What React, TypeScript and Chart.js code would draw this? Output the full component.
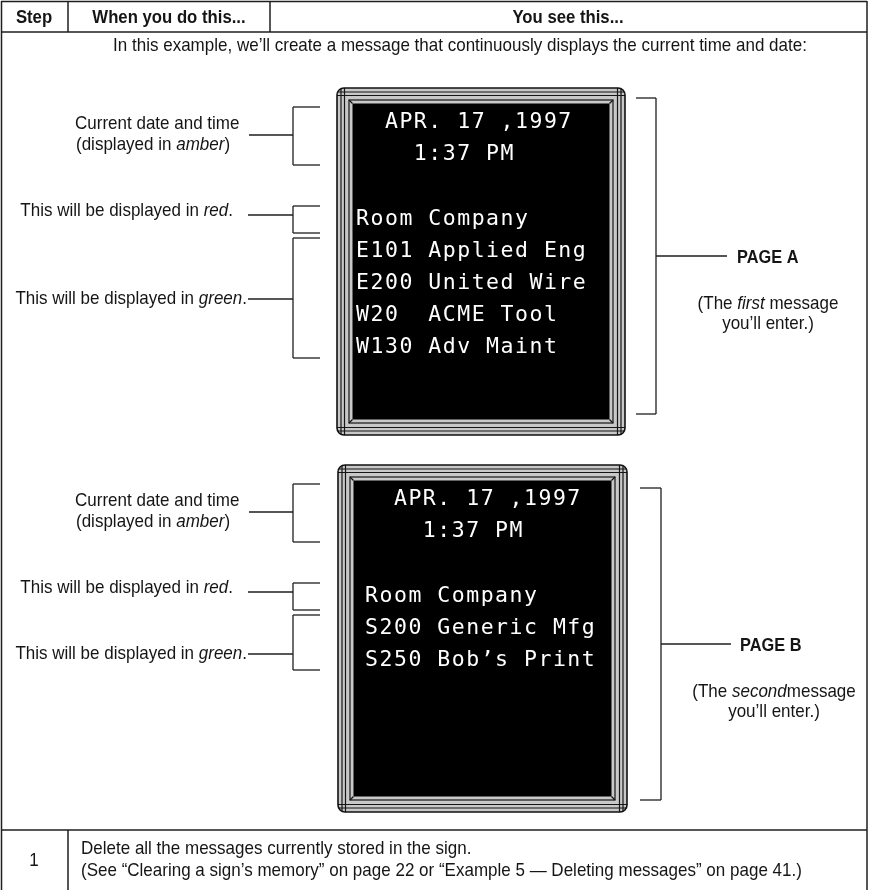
import React, { useEffect, useRef } from "react";
import { Chart, registerables } from "chart.js";
Chart.register(...registerables);

const W = 869;
const H = 890;

// ---- content ----
const headerLabels = ["Step", "When you do this...", "You see this..."];
const introText =
  "In this example, we’ll create a message that continuously displays the current time and date:";
const signALines = [
  "  APR. 17 ,1997",
  "    1:37 PM",
  "",
  "Room Company",
  "E101 Applied Eng",
  "E200 United Wire",
  "W20  ACME Tool",
  "W130 Adv Maint",
];
const signBLines = [
  "  APR. 17 ,1997",
  "    1:37 PM",
  "",
  "Room Company",
  "S200 Generic Mfg",
  "S250 Bob’s Print",
];
const dateNote = ["Current date and time", "(displayed in *amber*)"];
const redNote = "This will be displayed in *red*.";
const greenNote = "This will be displayed in *green*.";
const pageLabels = ["PAGE A", "PAGE B"];
const pageNotes = [
  ["(The *first* message", "you’ll enter.)"],
  ["(The *second*message", "you’ll enter.)"],
];
const stepNumbers = ["1"];
const stepTexts = [
  [
    "Delete all the messages currently stored in the sign.",
    "(See “Clearing a sign’s memory” on page 22 or “Example 5 — Deleting messages” on page 41.)",
  ],
];

// ---- styles ----
const SANS = '"Liberation Sans", Arial, Helvetica, sans-serif';
const MONO = '"DejaVu Sans Mono", "Liberation Mono", monospace';
const INK = "#151515";
const LINE = "#1e1e1e";
const BODY = 19;
const BODY_SX = 0.895;

type Runs = { t: string; it: boolean }[];
function parseRuns(s: string): Runs {
  return s
    .split("*")
    .map((t, i) => ({ t, it: i % 2 === 1 }))
    .filter((r) => r.t.length > 0);
}

function drawRich(
  ctx: CanvasRenderingContext2D,
  s: string,
  x: number,
  y: number,
  align: "left" | "right" | "center",
  opts: { size?: number; bold?: boolean; sx?: number } = {}
) {
  const size = opts.size ?? BODY;
  const bold = opts.bold ?? false;
  const sx = opts.sx ?? BODY_SX;
  const runs = parseRuns(s);
  const fontOf = (it: boolean) =>
    `${it ? "italic " : ""}${bold ? "bold " : ""}${size}px ${SANS}`;
  let total = 0;
  const widths = runs.map((r) => {
    ctx.font = fontOf(r.it);
    const w = ctx.measureText(r.t).width * sx;
    total += w;
    return w;
  });
  let cx = align === "left" ? x : align === "right" ? x - total : x - total / 2;
  ctx.fillStyle = INK;
  ctx.textAlign = "left";
  ctx.textBaseline = "alphabetic";
  runs.forEach((r, i) => {
    ctx.font = fontOf(r.it);
    ctx.save();
    ctx.translate(cx, y);
    ctx.scale(sx, 1);
    ctx.fillText(r.t, 0, 0);
    ctx.restore();
    cx += widths[i];
  });
}

const docPlugin = {
  id: "docPage",
  beforeDraw(chart: any) {
    const ctx: CanvasRenderingContext2D = chart.ctx;
    ctx.save();
    ctx.fillStyle = "#ffffff";
    ctx.fillRect(0, 0, chart.width, chart.height);
    ctx.restore();
  },
  afterDraw(chart: any) {
    const ctx: CanvasRenderingContext2D = chart.ctx;
    const xs = chart.scales.x;
    const ys = chart.scales.y;
    const X = (v: number) => xs.getPixelForValue(v);
    const Y = (v: number) => ys.getPixelForValue(v);

    const seg = (x1: number, y1: number, x2: number, y2: number, lw = 1.3, color = LINE) => {
      ctx.beginPath();
      ctx.moveTo(X(x1), Y(y1));
      ctx.lineTo(X(x2), Y(y2));
      ctx.lineWidth = lw;
      ctx.strokeStyle = color;
      ctx.stroke();
    };

    ctx.save();

    // ---- table grid ----
    const TL = 1.5;
    seg(1.5, 1, 1.5, 890, TL);
    seg(867, 1, 867, 890, TL);
    seg(1, 1.5, 867, 1.5, TL);
    seg(1, 32, 867, 32, TL);
    seg(68, 1, 68, 32, TL);
    seg(270, 1, 270, 32, TL);
    seg(1, 830, 867, 830, TL);
    seg(68, 830, 68, 890, TL);

    // header
    const headerCenters = [34, 169, 568];
    headerLabels.forEach((h, i) =>
      drawRich(ctx, h, X(headerCenters[i]), Y(23), "center", { size: 19, bold: true, sx: 0.88 })
    );

    // intro
    drawRich(ctx, introText, X(460), Y(51), "center");

    // ---- signs ----
    const drawSign = (box: number[], col0: number, row0: number, lines: string[]) => {
      const x0 = X(box[0]);
      const y0 = Y(box[1]);
      const x1 = X(box[2]);
      const y1 = Y(box[3]);
      const w = x1 - x0;
      const h = y1 - y0;
      ctx.save();
      ctx.beginPath();
      ctx.roundRect(x0, y0, w, h, 7);
      ctx.fillStyle = "#c8c8c8";
      ctx.fill();
      ctx.clip();
      ctx.strokeStyle = "#151515";
      ctx.lineWidth = 1.2;
      const ln = (a: number, b: number, c: number, d: number) => {
        ctx.beginPath();
        ctx.moveTo(a, b);
        ctx.lineTo(c, d);
        ctx.stroke();
      };
      for (const ins of [4, 7.5]) {
        ln(x0, y0 + ins, x1, y0 + ins);
        ln(x0, y1 - ins, x1, y1 - ins);
        ln(x0 + ins, y0, x0 + ins, y1);
        ln(x1 - ins, y0, x1 - ins, y1);
      }
      const i3 = 12;
      const ib = 15.5;
      ctx.strokeRect(x0 + i3, y0 + i3, w - 2 * i3, h - 2 * i3);
      ctx.fillStyle = "#000000";
      ctx.fillRect(x0 + ib, y0 + ib, w - 2 * ib, h - 2 * ib);
      ln(x0 + i3, y0 + i3, x0 + ib, y0 + ib);
      ln(x1 - i3, y0 + i3, x1 - ib, y0 + ib);
      ln(x0 + i3, y1 - i3, x0 + ib, y1 - ib);
      ln(x1 - i3, y1 - i3, x1 - ib, y1 - ib);
      ctx.restore();
      ctx.beginPath();
      ctx.roundRect(x0, y0, w, h, 7);
      ctx.lineWidth = 1.6;
      ctx.strokeStyle = "#111111";
      ctx.stroke();

      // text, one monospace cell per character
      ctx.fillStyle = "#ffffff";
      ctx.font = `21.5px ${MONO}`;
      ctx.textAlign = "center";
      ctx.textBaseline = "alphabetic";
      const adv = 14.45;
      const rowH = 32.2;
      lines.forEach((line, r) => {
        for (let c = 0; c < line.length; c++) {
          const ch = line[c];
          if (ch === " ") continue;
          ctx.fillText(ch, X(col0 + c * adv + adv / 2 - 0.7), Y(row0 + r * rowH));
        }
      });
    };

    drawSign([337, 88, 625, 435], 356, 128, signALines);
    drawSign([338, 465, 627, 812], 365, 505, signBLines);

    // ---- left annotations ----
    const drawLeft = (dy: number, green: number[]) => {
      drawRich(ctx, dateNote[0], X(75), Y(129 + dy), "left");
      drawRich(ctx, dateNote[1], X(76), Y(150 + dy), "left");
      seg(249, 135 + dy, 293, 135 + dy);
      seg(293, 107 + dy, 293, 165 + dy);
      seg(293, 107 + dy, 320, 107 + dy);
      seg(293, 165 + dy, 320, 165 + dy);

      drawRich(ctx, redNote, X(233), Y(216 + dy), "right");
      seg(248, 215 + dy, 293, 215 + dy);
      seg(293, 206 + dy, 293, 233 + dy);
      seg(293, 206 + dy, 320, 206 + dy);
      seg(293, 233 + dy, 320, 233 + dy);

      const [gt, gb, gm] = green;
      drawRich(ctx, greenNote, X(247), Y(gm + 5), "right");
      seg(248, gm, 293, gm);
      seg(293, gt, 293, gb);
      seg(293, gt, 320, gt);
      seg(293, gb, 320, gb);
    };
    drawLeft(0, [238, 358, 299]);
    drawLeft(377, [615, 670, 654]);

    // ---- right brackets & page labels ----
    const drawRight = (
      i: number,
      vx: number,
      tickX: number,
      top: number,
      bottom: number,
      mid: number,
      lineEnd: number,
      labelX: number,
      noteCx: number
    ) => {
      seg(vx, top, vx, bottom);
      seg(tickX, top, vx, top);
      seg(tickX, bottom, vx, bottom);
      seg(vx, mid, lineEnd, mid);
      drawRich(ctx, pageLabels[i], X(labelX), Y(mid + 7), "left", { size: 19, bold: true, sx: 0.86 });
      drawRich(ctx, pageNotes[i][0], X(noteCx), Y(mid + 53), "center");
      drawRich(ctx, pageNotes[i][1], X(noteCx), Y(mid + 73), "center");
    };
    drawRight(0, 656, 636, 98, 414, 256, 727, 737, 768);
    drawRight(1, 661, 640, 488, 800, 644, 731, 740, 774);

    // ---- step row ----
    stepNumbers.forEach((n, i) => {
      drawRich(ctx, n, X(34), Y(866), "center");
      drawRich(ctx, stepTexts[i][0], X(81), Y(854), "left");
      drawRich(ctx, stepTexts[i][1], X(81), Y(876), "left");
    });

    ctx.restore();
  },
};

export default function App() {
  const ref = useRef<HTMLCanvasElement>(null);
  useEffect(() => {
    const canvas = ref.current!;
    const chart = new Chart(canvas, {
      type: "scatter",
      data: { datasets: [{ data: [], pointRadius: 0 }] },
      options: {
        responsive: false,
        animation: false,
        events: [],
        layout: { padding: 0 },
        plugins: { legend: { display: false }, tooltip: { enabled: false } },
        scales: {
          x: { type: "linear", min: 0, max: W, display: false },
          y: { type: "linear", min: 0, max: H, reverse: true, display: false },
        },
      },
      plugins: [docPlugin],
    } as any);
    return () => chart.destroy();
  }, []);
  return (
    <div style={{ position: "absolute", left: 0, top: 0, width: W, height: H }}>
      <canvas ref={ref} width={W} height={H} style={{ display: "block", width: W, height: H }} />
    </div>
  );
}
